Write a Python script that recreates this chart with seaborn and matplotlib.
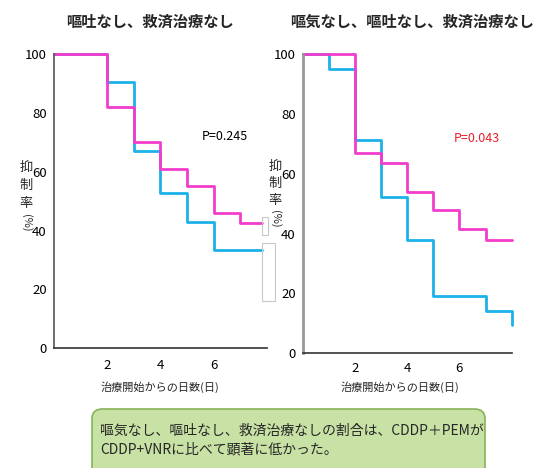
import matplotlib
matplotlib.use("Agg")
import matplotlib.pyplot as plt
import seaborn as sns
import pandas as pd
from matplotlib.patches import FancyBboxPatch, Rectangle

sns.set_style("white")
plt.rcParams['font.family'] = ['Noto Sans CJK JP', 'DejaVu Sans']

# ---- data ----
days_left = [0, 2, 3, 4, 5, 6, 7, 7.8]
pem_left = [100, 82, 70, 61, 55, 46, 42.5, 42.5]
vnr_left_days = [0, 2, 3, 4, 5, 6, 7.8]
vnr_left = [100, 90.5, 67, 52.7, 43, 33.4, 33.4]

days_right_pem = [0, 2, 3, 4, 5, 6, 7, 8]
pem_right = [100, 67, 63.5, 54, 48, 41.5, 38, 38]
days_right_vnr = [0, 1, 2, 3, 4, 5, 7, 8]
vnr_right = [100, 95, 71.3, 52.4, 38, 19, 14.2, 9.5]

title_left = "嘔吐なし、救済治療なし"
title_right = "嘔気なし、嘔吐なし、救済治療なし"
xlabel = "治療開始からの日数(日)"
p_left = "P=0.245"
p_right = "P=0.043"
xticks = [2, 4, 6]
yticks = [0, 20, 40, 60, 80, 100]
note = "嘔気なし、嘔吐なし、救済治療なしの割合は、CDDP＋PEMが\nCDDP+VNRに比べて顕著に低かった。"

PINK = "#f23ccb"
BLUE = "#1cb2e8"
W, H = 536, 468

fig = plt.figure(figsize=(5.36, 4.68), dpi=100)

def fx(x):
    return x / W

def fy(y):
    return 1 - y / H

axL = fig.add_axes([fx(53.6), fy(348.3), (267 - 53.6) / W, (348.3 - 54) / H])
axR = fig.add_axes([fx(302.8), fy(353.3), (511.6 - 302.8) / W, (353.3 - 54.3) / H])

def draw(ax, d1, v1, d2, v2, spine_col, spine_w, xpad):
    df1 = pd.DataFrame({"day": d1, "rate": v1})
    df2 = pd.DataFrame({"day": d2, "rate": v2})
    sns.lineplot(data=df2, x="day", y="rate", ax=ax, color=BLUE, lw=2.0,
                 drawstyle="steps-post", estimator=None, clip_on=False)
    sns.lineplot(data=df1, x="day", y="rate", ax=ax, color=PINK, lw=2.0,
                 drawstyle="steps-post", estimator=None, clip_on=False)
    ax.set_xlim(0, 8)
    ax.set_ylim(0, 100)
    ax.set_xticks(xticks)
    ax.set_yticks(yticks)
    ax.set_xlabel("")
    ax.set_ylabel("")
    for s in ["top", "right"]:
        ax.spines[s].set_visible(False)
    ax.spines["left"].set_color(spine_col)
    ax.spines["left"].set_linewidth(spine_w)
    ax.spines["bottom"].set_color("#333333")
    ax.spines["bottom"].set_linewidth(1.2)
    ax.tick_params(axis="both", direction="out", length=4, width=1,
                   colors="#333333", labelsize=9.5, labelcolor="black")
    ax.tick_params(axis="y", pad=1)
    ax.tick_params(axis="x", pad=xpad)
    ax.patch.set_alpha(0)

draw(axL, days_left, pem_left, vnr_left_days, vnr_left, "#555555", 1.2, 4)
draw(axR, days_right_pem, pem_right, days_right_vnr, vnr_right, "#999999", 2.0, 2)

fig.text(fx(150), fy(22), title_left, ha="center", va="center", fontsize=11,
         fontweight="bold")
fig.text(fx(412), fy(22), title_right, ha="center", va="center", fontsize=11,
         fontweight="bold")

fig.text(fx(160), fy(387), xlabel, ha="center", va="center", fontsize=8)
fig.text(fx(400), fy(387), xlabel, ha="center", va="center", fontsize=8)

axL.text(6.42, 72, p_left, ha="center", va="center", fontsize=9, color="black")
axR.text(6.66, 72, p_right, ha="center", va="center", fontsize=9, color="#e8202a")

def ylabel(x, ytop, step):
    for i, ch in enumerate("抑制率"):
        fig.text(fx(x), fy(ytop + i * step), ch, ha="center", va="center",
                 fontsize=9.5)
    fig.text(fx(x), fy(ytop + 3 * step + 2), "(%)", ha="center", va="center",
             fontsize=8, rotation=-90)

ylabel(26, 168, 17.5)
ylabel(275, 166.5, 16.8)

# legend remnants
fig.patches.append(Rectangle((fx(261.5), fy(235)), 6.5 / W, 18 / H, transform=fig.transFigure,
                             fill=False, edgecolor="#c8c8c8", lw=0.8))
fig.patches.append(Rectangle((fx(261.5), fy(301)), 13.5 / W, 58 / H, transform=fig.transFigure,
                             fill=False, edgecolor="#c8c8c8", lw=0.8))

# note box
box = FancyBboxPatch((fx(92), fy(480)), (485 - 92) / W, (480 - 409) / H,
                     boxstyle="round,pad=0,rounding_size=0.02",
                     transform=fig.transFigure, facecolor="#c8e2a6",
                     edgecolor="#86b35a", lw=1.2, clip_on=False)
fig.patches.append(box)
fig.text(fx(100), fy(440), note, ha="left", va="center", fontsize=10,
         linespacing=1.45)

fig.savefig("out.png", dpi=100)
